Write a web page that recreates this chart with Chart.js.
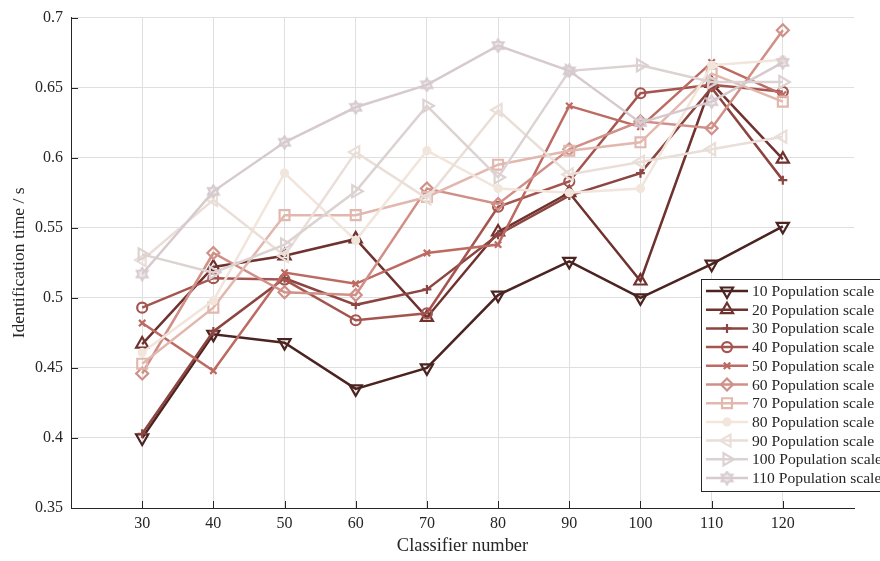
<!DOCTYPE html>
<html>
<head>
<meta charset="utf-8">
<script src="https://cdn.jsdelivr.net/npm/chart.js@4/dist/chart.umd.min.js"></script>
<style>
  html, body { margin: 0; padding: 0; background: #fff; }
</style>
</head>
<body>
<canvas id="chart" width="880" height="561"></canvas>
<script>
// Data
const classifiers = [30, 40, 50, 60, 70, 80, 90, 100, 110, 120];
const xTicks = [30, 40, 50, 60, 70, 80, 90, 100, 110, 120];
const yTicks = [0.35, 0.4, 0.45, 0.5, 0.55, 0.6, 0.65, 0.7];

const pop10  = [0.400, 0.474, 0.468, 0.435, 0.450, 0.502, 0.526, 0.500, 0.524, 0.551];
const pop20  = [0.467, 0.522, 0.530, 0.542, 0.486, 0.547, 0.575, 0.512, 0.653, 0.599];
const pop30  = [0.403, 0.476, 0.514, 0.495, 0.506, 0.545, 0.573, 0.589, 0.650, 0.584];
const pop40  = [0.493, 0.514, 0.513, 0.484, 0.489, 0.565, 0.583, 0.646, 0.652, 0.647];
const pop50  = [0.482, 0.448, 0.518, 0.510, 0.532, 0.538, 0.637, 0.622, 0.668, 0.645];
const pop60  = [0.446, 0.532, 0.504, 0.502, 0.578, 0.567, 0.606, 0.626, 0.621, 0.691];
const pop70  = [0.453, 0.493, 0.559, 0.559, 0.572, 0.595, 0.605, 0.611, 0.660, 0.640];
const pop80  = [0.461, 0.498, 0.589, 0.541, 0.605, 0.578, 0.575, 0.578, 0.666, 0.670];
const pop90  = [0.527, 0.570, 0.530, 0.604, 0.571, 0.634, 0.588, 0.597, 0.606, 0.615];
const pop100 = [0.531, 0.518, 0.538, 0.576, 0.637, 0.586, 0.662, 0.666, 0.654, 0.654];
const pop110 = [0.517, 0.576, 0.611, 0.636, 0.652, 0.680, 0.662, 0.625, 0.640, 0.668];

const seriesNames = ['10 Population scale', '20 Population scale', '30 Population scale',
  '40 Population scale', '50 Population scale', '60 Population scale', '70 Population scale',
  '80 Population scale', '90 Population scale', '100 Population scale', '110 Population scale'];
const seriesValues = [pop10, pop20, pop30, pop40, pop50, pop60, pop70, pop80, pop90, pop100, pop110];

// styles
const colors = ['#4b2320', '#6f322e', '#8c4540', '#a5554f', '#bd6a62', '#d08f87',
  '#e2b8ae', '#f2e5db', '#eaded8', '#ddd2d2', '#d6cace'];
const serif = "'Liberation Serif', 'Times New Roman', serif";
const axisColor = '#262626';

// hexagram marker (MATLAB 'h')
function hexagram(color, size) {
  const c = document.createElement('canvas');
  c.width = c.height = size;
  const g = c.getContext('2d');
  const mid = size / 2, r = size / 2 - 1.2;
  g.beginPath();
  for (let k = 0; k < 12; k++) {
    const a = -Math.PI / 2 + k * Math.PI / 6;
    const rr = k % 2 ? r * 0.58 : r;
    g.lineTo(mid + rr * Math.cos(a), mid + rr * Math.sin(a));
  }
  g.closePath();
  g.fillStyle = color;
  g.globalAlpha = 0.35;
  g.fill();
  g.globalAlpha = 1;
  g.strokeStyle = color;
  g.lineWidth = 2;
  g.stroke();
  return c;
}

const markers = [
  { style: 'triangle', rot: 180, r: 7 },
  { style: 'triangle', rot: 0, r: 7 },
  { style: 'cross', rot: 0, r: 4.5 },
  { style: 'circle', rot: 0, r: 5 },
  { style: 'crossRot', rot: 0, r: 4.5 },
  { style: 'rectRot', rot: 0, r: 6 },
  { style: 'rect', rot: 0, r: 7 },
  { style: 'circle', rot: 0, r: 3.5, filled: true },
  { style: 'triangle', rot: -90, r: 7 },
  { style: 'triangle', rot: 90, r: 7 },
  { style: hexagram(colors[10], 15), rot: 0, r: 7 }
];

const datasets = seriesValues.map((vals, i) => ({
  label: seriesNames[i],
  data: classifiers.map((c, j) => ({ x: c, y: vals[j] })),
  borderColor: colors[i],
  borderWidth: 2.5,
  pointStyle: markers[i].style,
  rotation: markers[i].rot,
  pointRadius: markers[i].r,
  pointBorderWidth: 2.2,
  pointBorderColor: colors[i],
  pointBackgroundColor: markers[i].filled ? colors[i] : 'rgba(0,0,0,0)',
  fill: false,
  tension: 0,
  order: seriesValues.length - i
}));

// inward tick marks like MATLAB
const innerTicks = {
  id: 'innerTicks',
  afterDatasetsDraw(chart) {
    const { ctx, chartArea, scales } = chart;
    ctx.save();
    ctx.strokeStyle = axisColor;
    ctx.lineWidth = 1;
    ctx.beginPath();
    yTicks.forEach(v => {
      const y = Math.round(scales.y.getPixelForValue(v)) + 0.5;
      ctx.moveTo(chartArea.left, y);
      ctx.lineTo(chartArea.left + 7, y);
    });
    xTicks.forEach(v => {
      const x = Math.round(scales.x.getPixelForValue(v)) + 0.5;
      ctx.moveTo(x, chartArea.bottom);
      ctx.lineTo(x, chartArea.bottom - 7);
    });
    ctx.stroke();
    ctx.restore();
  }
};

// MATLAB-style legend box with line + marker
const legendBox = {
  id: 'legendBox',
  afterDraw(chart) {
    const ctx = chart.ctx;
    const x0 = 701, y0 = 279, w = 200, h = 212, rowH = 18.7;
    ctx.save();
    ctx.fillStyle = '#fff';
    ctx.fillRect(x0, y0, w, h);
    ctx.strokeStyle = axisColor;
    ctx.lineWidth = 1;
    ctx.strokeRect(x0 + 0.5, y0 + 0.5, w, h);
    ctx.font = '15.6px ' + serif;
    ctx.textBaseline = 'middle';
    chart.data.datasets.forEach((ds, i) => {
      const cy = y0 + 12 + i * rowH;
      ctx.strokeStyle = ds.borderColor;
      ctx.lineWidth = ds.borderWidth;
      ctx.beginPath();
      ctx.moveTo(x0 + 5, cy);
      ctx.lineTo(x0 + 47, cy);
      ctx.stroke();
      ctx.fillStyle = ds.pointBackgroundColor;
      ctx.strokeStyle = ds.pointBorderColor;
      ctx.lineWidth = ds.pointBorderWidth;
      Chart.helpers.drawPoint(ctx, {
        pointStyle: ds.pointStyle,
        rotation: ds.rotation,
        radius: ds.pointRadius,
        borderWidth: ds.pointBorderWidth
      }, x0 + 26, cy);
      ctx.fillStyle = axisColor;
      ctx.fillText(ds.label, x0 + 51, cy + 1);
    });
    ctx.restore();
  }
};

new Chart(document.getElementById('chart'), {
  type: 'line',
  data: { datasets },
  options: {
    responsive: false,
    devicePixelRatio: 1,
    animation: false,
    layout: { padding: { top: 15, right: 26, left: 0, bottom: 0 } },
    plugins: {
      legend: { display: false },
      tooltip: { enabled: false }
    },
    scales: {
      x: {
        type: 'linear',
        min: 20,
        max: 130,
        afterBuildTicks: s => { s.ticks = xTicks.map(v => ({ value: v })); },
        afterFit: s => { s.height = 53; },
        grid: { color: '#dfdfdf', drawTicks: false },
        border: { color: axisColor, width: 1 },
        ticks: { color: axisColor, padding: 6, font: { family: serif, size: 16 } },
        title: {
          display: true,
          text: 'Classifier number',
          color: axisColor,
          font: { family: serif, size: 18.4 },
          padding: { top: 4, bottom: 4 }
        }
      },
      y: {
        min: 0.35,
        max: 0.7,
        afterBuildTicks: s => { s.ticks = yTicks.map(v => ({ value: v })); },
        afterFit: s => { s.width = 71; },
        grid: { color: '#dfdfdf', drawTicks: false },
        border: { color: axisColor, width: 1 },
        ticks: {
          color: axisColor,
          padding: 8,
          font: { family: serif, size: 16 },
          callback: v => String(v)
        },
        title: {
          display: true,
          text: 'Identification time / s',
          color: axisColor,
          font: { family: serif, size: 17.6 },
          padding: { top: 9, bottom: 0 }
        }
      }
    }
  },
  plugins: [innerTicks, legendBox]
});
</script>
</body>
</html>
